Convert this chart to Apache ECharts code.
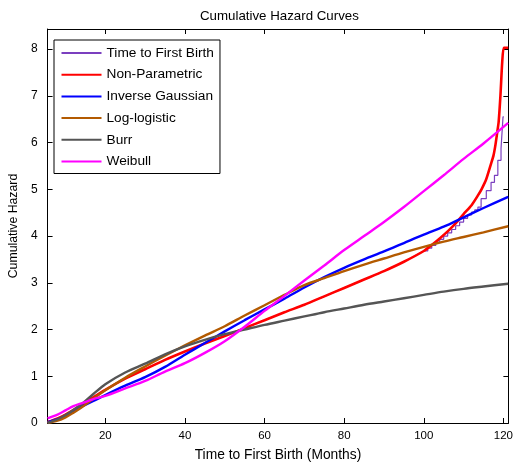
<!DOCTYPE html>
<html>
<head>
<meta charset="utf-8">
<script src="https://cdn.jsdelivr.net/npm/echarts@6/dist/echarts.min.js"></script>
<style>
html,body{margin:0;padding:0;background:#fff;}
#chart{width:516px;height:467px;}
</style>
</head>
<body>
<div id="chart"></div>
<script>
// ---- data ----
const titleText = 'Cumulative Hazard Curves';
const xName = 'Time to First Birth (Months)';
const yName = 'Cumulative Hazard';
const xTicks = [20, 40, 60, 80, 100, 120];
const yTicks = [0, 1, 2, 3, 4, 5, 6, 7, 8];

const fitMonths = [5.5, 8, 10, 12, 14, 17, 20, 25, 30, 35, 40, 45, 50, 55, 60, 65, 70, 75, 80, 85, 90, 95, 100, 105, 110, 115, 121.2];
const invGauss = [0.02, 0.08, 0.15, 0.25, 0.35, 0.47, 0.6, 0.8, 0.98, 1.2, 1.46, 1.71, 1.96, 2.2, 2.43, 2.66, 2.9, 3.12, 3.32, 3.5, 3.67, 3.85, 4.03, 4.2, 4.4, 4.6, 4.84];
const logLogistic = [0.0, 0.05, 0.12, 0.22, 0.33, 0.52, 0.7, 0.97, 1.21, 1.44, 1.66, 1.87, 2.07, 2.3, 2.52, 2.74, 2.95, 3.1, 3.25, 3.39, 3.52, 3.65, 3.77, 3.88, 3.98, 4.08, 4.21];
const burr = [0.0, 0.08, 0.17, 0.28, 0.4, 0.62, 0.83, 1.08, 1.27, 1.47, 1.64, 1.78, 1.9, 2.0, 2.1, 2.19, 2.28, 2.37, 2.45, 2.53, 2.6, 2.67, 2.74, 2.81, 2.87, 2.92, 2.98];
const weibull = [0.1, 0.18, 0.27, 0.36, 0.42, 0.51, 0.58, 0.74, 0.9, 1.1, 1.28, 1.5, 1.75, 2.06, 2.4, 2.72, 3.05, 3.37, 3.7, 4.0, 4.3, 4.62, 4.96, 5.3, 5.65, 5.98, 6.42];

const npMonths = [5.5, 8, 10, 12, 14, 17, 20, 25, 30, 35, 40, 45, 50, 55, 60, 65, 70, 75, 80, 85, 90, 95, 100, 102, 104, 106, 108, 110, 112, 113.6, 114.5, 115.7, 116.9, 117.5, 118, 118.5, 118.8, 119.25, 119.7, 120.1, 121.2];
const nonParam = [0.02, 0.1, 0.18, 0.28, 0.38, 0.55, 0.71, 0.95, 1.15, 1.35, 1.53, 1.7, 1.86, 2.03, 2.2, 2.37, 2.53, 2.71, 2.89, 3.07, 3.25, 3.45, 3.68, 3.81, 3.95, 4.1, 4.27, 4.47, 4.66, 4.87, 5.0, 5.22, 5.55, 5.72, 5.95, 6.25, 6.44, 7.0, 7.72, 8.03, 8.03];

const empMonths = [5.5, 8, 10, 12, 14, 17, 20, 25, 30, 35, 40, 45, 50, 55, 60, 65, 70, 75, 80, 85, 90, 95, 100,
  101, 101, 102, 102, 103, 103, 104, 104, 105, 105, 106, 106, 107, 107, 108, 108, 109, 109, 110, 110, 111, 111, 112, 112,
  112.8, 112.8, 113.6, 113.6, 114.4, 114.4, 115.7, 115.7, 116.9, 116.9, 117.75, 117.75, 118.6, 118.6, 119.4, 119.4, 119.9, 119.9, 120.1];
const empirical = [0.02, 0.1, 0.18, 0.28, 0.38, 0.55, 0.71, 0.95, 1.15, 1.35, 1.53, 1.7, 1.86, 2.03, 2.2, 2.37, 2.53, 2.71, 2.89, 3.07, 3.25, 3.45, 3.68,
  3.68, 3.74, 3.74, 3.80, 3.80, 3.87, 3.87, 3.93, 3.93, 4.0, 4.0, 4.07, 4.07, 4.14, 4.14, 4.22, 4.22, 4.30, 4.30, 4.38, 4.38, 4.45, 4.45, 4.51,
  4.51, 4.56, 4.56, 4.62, 4.62, 4.80, 4.80, 4.97, 4.97, 5.15, 5.15, 5.30, 5.30, 5.62, 5.62, 5.87, 5.87, 6.55, 6.55];

const names = ['Time to First Birth', 'Non-Parametric', 'Inverse Gaussian', 'Log-logistic', 'Burr', 'Weibull'];
const colors = ['#7b3fbf', '#ff0000', '#0000ff', '#b35a00', '#555555', '#ff00ff'];

// ---- chart ----
const FONT = "'Liberation Sans', Arial, Helvetica, sans-serif";
const pairs = (xs, ys) => xs.map((x, i) => [x, ys[i]]);

function lineSeries(idx, data, width, smooth, z) {
  return {
    name: names[idx], type: 'line', data: data, color: colors[idx],
    showSymbol: false, symbol: 'none', smooth: smooth, z: z,
    lineStyle: { color: colors[idx], width: width },
    xAxisIndex: 0, yAxisIndex: 0
  };
}

const chart = echarts.init(document.getElementById('chart'), null, { renderer: 'canvas' });
const axisLineStyle = { color: '#000', width: 1 };
chart.setOption({
  animation: false,
  backgroundColor: '#fff',
  textStyle: { fontFamily: FONT },
  title: {
    text: titleText, left: 195, top: 5,
    textStyle: { fontSize: 13.3, fontWeight: 'normal', color: '#000', fontFamily: FONT }
  },
  legend: {
    orient: 'vertical', left: 54, top: 40,
    padding: [5, 6, 4, 7.5],
    borderColor: '#000', borderWidth: 1, backgroundColor: '#fff',
    icon: 'rect', itemWidth: 40, itemHeight: 2, itemGap: 5.7, itemTextGap: 6,
    textStyle: { fontSize: 13.7, color: '#000', lineHeight: 16, fontFamily: FONT },
    data: names
  },
  grid: { left: 47, right: 7.5, top: 29, bottom: 43, containLabel: false },
  xAxis: [{
    type: 'value', min: 5.5, max: 121.25, position: 'bottom',
    name: xName, nameLocation: 'middle', nameGap: 25,
    nameTextStyle: { fontSize: 13.8, color: '#000', fontFamily: FONT },
    axisLine: { show: true, onZero: false, lineStyle: axisLineStyle },
    axisTick: { show: true, inside: true, length: 5, customValues: xTicks, lineStyle: axisLineStyle },
    axisLabel: { customValues: xTicks, margin: 7, fontSize: 11.5, color: '#000', fontFamily: FONT },
    splitLine: { show: false }
  }, {
    type: 'value', min: 5.5, max: 121.25, position: 'top',
    axisLine: { show: true, onZero: false, lineStyle: axisLineStyle },
    axisTick: { show: true, inside: true, length: 5, customValues: xTicks, lineStyle: axisLineStyle },
    axisLabel: { show: false, customValues: xTicks },
    splitLine: { show: false }
  }],
  yAxis: [{
    type: 'value', min: 0, max: 8.43, position: 'left',
    name: yName, nameLocation: 'middle', nameGap: 19,
    nameTextStyle: { fontSize: 12.3, color: '#000', fontFamily: FONT },
    axisLine: { show: true, onZero: false, lineStyle: axisLineStyle },
    axisTick: { show: true, inside: true, length: 5, customValues: yTicks, lineStyle: axisLineStyle },
    axisLabel: { customValues: yTicks, margin: 10, fontSize: 12, color: '#000', fontFamily: FONT },
    splitLine: { show: false }
  }, {
    type: 'value', min: 0, max: 8.43, position: 'right',
    axisLine: { show: true, onZero: false, lineStyle: axisLineStyle },
    axisTick: { show: true, inside: true, length: 5, customValues: yTicks, lineStyle: axisLineStyle },
    axisLabel: { show: false, customValues: yTicks },
    splitLine: { show: false }
  }],
  series: [
    lineSeries(0, pairs(empMonths, empirical), 1.2, false, 2),
    lineSeries(1, pairs(npMonths, nonParam), 2.6, 0.2, 3),
    lineSeries(2, pairs(fitMonths, invGauss), 2.4, 0.3, 4),
    lineSeries(3, pairs(fitMonths, logLogistic), 2.4, 0.3, 5),
    lineSeries(4, pairs(fitMonths, burr), 2.4, 0.3, 6),
    lineSeries(5, pairs(fitMonths, weibull), 2.4, 0.3, 7)
  ]
});
</script>
</body>
</html>
